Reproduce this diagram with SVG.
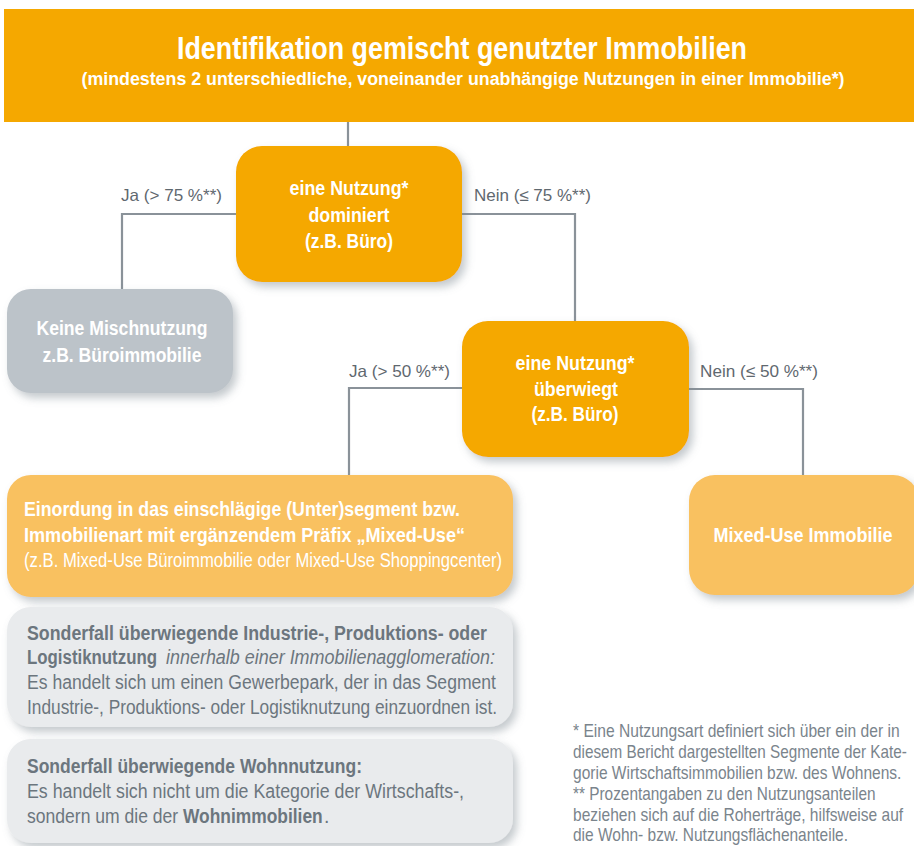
<svg xmlns="http://www.w3.org/2000/svg" width="914" height="846" viewBox="0 0 914 846">
  <defs>
    <filter id="shadow" x="-10%" y="-10%" width="125%" height="130%">
      <feDropShadow dx="4" dy="5" stdDeviation="4" flood-color="#7d878f" flood-opacity="0.45"/>
    </filter>
    <style>
      text { font-family: "Liberation Sans", Arial, sans-serif; }
      .head { font-weight: bold; fill: #ffffff; text-anchor: middle; }
      .nodeTxt { font-size: 19.5px; font-weight: bold; fill: #ffffff; text-anchor: middle; }
      .lbl { font-size: 16.5px; fill: #5f686f; }
      .body { font-size: 19.5px; fill: #6c767e; }
      .bodyB { font-size: 19.5px; fill: #6c767e; font-weight: bold; }
      .bodyI { font-size: 19.5px; fill: #6c767e; font-style: italic; }
      .wb { font-size: 19.5px; fill: #ffffff; font-weight: bold; }
      .w { font-size: 19.5px; fill: #ffffff; }
      .fn { font-size: 17.5px; fill: #7a848c; }
      .conn { fill: none; stroke: #8a9299; stroke-width: 2.2; }
      .orange { fill: #f5a800; }
      .light { fill: #f9c160; }
      .grey { fill: #bcc3c9; }
      .pale { fill: #e9ebed; }
    </style>
  </defs>

  <rect width="914" height="846" fill="#ffffff"/>

  <!-- connectors -->
  <g id="connectors">
    <path class="conn" d="M348 121 V150"/>
    <path class="conn" d="M240 214 H122 V292"/>
    <path class="conn" d="M458 214 H575 V324"/>
    <path class="conn" d="M466 388 H349 V478"/>
    <path class="conn" d="M686 389 H803 V478"/>
  </g>

  <!-- header -->
  <g id="header">
    <rect class="orange" x="4" y="9" width="912" height="113"/>
    <text class="head" x="462" y="59" font-size="31" textLength="570" lengthAdjust="spacingAndGlyphs">Identifikation gemischt genutzter Immobilien</text>
    <text class="head" x="463" y="85" font-size="18" textLength="763" lengthAdjust="spacingAndGlyphs">(mindestens 2 unterschiedliche, voneinander unabhängige Nutzungen in einer Immobilie*)</text>
  </g>

  <!-- edge labels -->
  <g id="labels">
    <text class="lbl" x="121" y="201" textLength="101" lengthAdjust="spacingAndGlyphs">Ja (&gt; 75 %**)</text>
    <text class="lbl" x="474" y="201" textLength="117" lengthAdjust="spacingAndGlyphs">Nein (≤ 75 %**)</text>
    <text class="lbl" x="349" y="377" textLength="101" lengthAdjust="spacingAndGlyphs">Ja (&gt; 50 %**)</text>
    <text class="lbl" x="700" y="377" textLength="118" lengthAdjust="spacingAndGlyphs">Nein (≤ 50 %**)</text>
  </g>

  <!-- decision: dominiert -->
  <g id="node-dominiert">
    <rect class="orange" x="236" y="146" width="226" height="136" rx="26" filter="url(#shadow)"/>
    <text class="nodeTxt" x="349" y="195" textLength="119" lengthAdjust="spacingAndGlyphs">eine Nutzung*</text>
    <text class="nodeTxt" x="349" y="222" textLength="81" lengthAdjust="spacingAndGlyphs">dominiert</text>
    <text class="nodeTxt" x="349" y="248" textLength="88" lengthAdjust="spacingAndGlyphs">(z.B. Büro)</text>
  </g>

  <!-- result: no mixed use -->
  <g id="node-keine">
    <rect class="grey" x="7" y="289" width="226" height="104" rx="24" filter="url(#shadow)"/>
    <text class="nodeTxt" x="122" y="335" textLength="171" lengthAdjust="spacingAndGlyphs">Keine Mischnutzung</text>
    <text class="nodeTxt" x="122" y="362" textLength="159" lengthAdjust="spacingAndGlyphs">z.B. Büroimmobilie</text>
  </g>

  <!-- decision: überwiegt -->
  <g id="node-ueberwiegt">
    <rect class="orange" x="462" y="321" width="227" height="136" rx="26" filter="url(#shadow)"/>
    <text class="nodeTxt" x="575" y="370" textLength="119" lengthAdjust="spacingAndGlyphs">eine Nutzung*</text>
    <text class="nodeTxt" x="576" y="396" textLength="84" lengthAdjust="spacingAndGlyphs">überwiegt</text>
    <text class="nodeTxt" x="575" y="421" textLength="87" lengthAdjust="spacingAndGlyphs">(z.B. Büro)</text>
  </g>

  <!-- result: segment with Mixed-Use prefix -->
  <g id="node-einordnung">
    <rect class="light" x="7" y="475" width="506" height="122" rx="24" filter="url(#shadow)"/>
    <text class="wb" x="24" y="516" textLength="436" lengthAdjust="spacingAndGlyphs">Einordung in das einschlägige (Unter)segment bzw.</text>
    <text class="wb" x="24" y="542" textLength="441" lengthAdjust="spacingAndGlyphs">Immobilienart mit ergänzendem Präfix „Mixed-Use“</text>
    <text class="w" x="24" y="567" textLength="478" lengthAdjust="spacingAndGlyphs">(z.B. Mixed-Use Büroimmobilie oder Mixed-Use Shoppingcenter)</text>
  </g>

  <!-- result: Mixed-Use -->
  <g id="node-mixed">
    <rect class="light" x="689" y="475" width="230" height="120" rx="26" filter="url(#shadow)"/>
    <text class="nodeTxt" x="803" y="542" textLength="179" lengthAdjust="spacingAndGlyphs">Mixed-Use Immobilie</text>
  </g>

  <!-- special case: industry / logistics -->
  <g id="node-sonderfall-industrie">
    <rect class="pale" x="7" y="607" width="506" height="120" rx="24" filter="url(#shadow)"/>
    <text class="bodyB" x="27" y="640" textLength="460" lengthAdjust="spacingAndGlyphs">Sonderfall überwiegende Industrie-, Produktions- oder</text>
    <text class="bodyB" x="27" y="664" textLength="130" lengthAdjust="spacingAndGlyphs">Logistiknutzung</text>
    <text class="bodyI" x="166" y="664" textLength="329" lengthAdjust="spacingAndGlyphs">innerhalb einer Immobilienagglomeration:</text>
    <text class="body" x="27" y="689" textLength="469" lengthAdjust="spacingAndGlyphs">Es handelt sich um einen Gewerbepark, der in das Segment</text>
    <text class="body" x="27" y="714" textLength="470" lengthAdjust="spacingAndGlyphs">Industrie-, Produktions- oder Logistiknutzung einzuordnen ist.</text>
  </g>

  <!-- special case: residential -->
  <g id="node-sonderfall-wohnen">
    <rect class="pale" x="7" y="739" width="506" height="104" rx="24" filter="url(#shadow)"/>
    <text class="bodyB" x="27" y="773" textLength="335" lengthAdjust="spacingAndGlyphs">Sonderfall überwiegende Wohnnutzung:</text>
    <text class="body" x="27" y="798" textLength="437" lengthAdjust="spacingAndGlyphs">Es handelt sich nicht um die Kategorie der Wirtschafts-,</text>
    <text class="body" transform="translate(27 823) scale(0.9 1)" x="0" y="0" textLength="168" lengthAdjust="spacingAndGlyphs">sondern um die der</text>
    <text class="bodyB" transform="translate(183 823) scale(0.89 1)" x="0" y="0" textLength="157" lengthAdjust="spacingAndGlyphs">Wohnimmobilien</text>
    <text class="body" x="324" y="823">.</text>
  </g>

  <!-- footnotes, condensed horizontally -->
  <g id="footnotes" transform="translate(573 0) scale(0.89 1)">
    <text class="fn" x="0" y="737" textLength="367" lengthAdjust="spacingAndGlyphs">* Eine Nutzungsart definiert sich über ein der in</text>
    <text class="fn" x="0" y="758" textLength="375" lengthAdjust="spacingAndGlyphs">diesem Bericht dargestellten Segmente der Kate-</text>
    <text class="fn" x="0" y="779" textLength="369" lengthAdjust="spacingAndGlyphs">gorie Wirtschaftsimmobilien bzw. des Wohnens.</text>
    <text class="fn" x="0" y="800" textLength="340" lengthAdjust="spacingAndGlyphs">** Prozentangaben zu den Nutzungsanteilen</text>
    <text class="fn" x="0" y="821" textLength="371" lengthAdjust="spacingAndGlyphs">beziehen sich auf die Roherträge, hilfsweise auf</text>
    <text class="fn" x="0" y="841" textLength="309" lengthAdjust="spacingAndGlyphs">die Wohn- bzw. Nutzungsflächenanteile.</text>
  </g>
</svg>
